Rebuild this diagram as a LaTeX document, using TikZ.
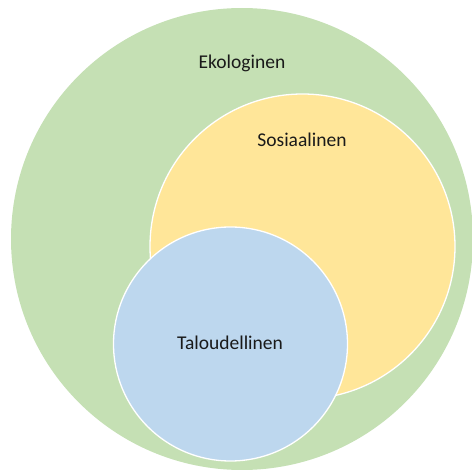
\documentclass[tikz,border=0pt]{standalone}
\usepackage{fontspec}
\setmainfont{Carlito}
\definecolor{ecogreen}{HTML}{C5E0B4}
\definecolor{socyellow}{HTML}{FFE699}
\definecolor{ecoblue}{HTML}{BDD7EE}
\definecolor{txt}{HTML}{1A1A1A}
\begin{document}
\begin{tikzpicture}[x=1pt,y=1pt,
  lbl/.style={font=\fontsize{19.5}{22}\selectfont, text=txt, inner sep=0pt},
  ring/.style={circle, draw=white, line width=1.3pt, inner sep=0pt}]
\useasboundingbox (0,0) rectangle (472,472);
\begin{scope}
\clip (0,0) rectangle (472,472);
\node[circle, fill=ecogreen, minimum size=462pt, inner sep=0pt] (eko) at (242,233) {};
\end{scope}
\node[ring, fill=socyellow, minimum size=305pt] (sos) at (302.5,225.5) {};
\node[ring, fill=ecoblue, minimum size=234pt] (tal) at (230.5,128) {};
\node[lbl] (ekot) at (242,409) {Ekologinen};
\node[lbl] (sost) at (302,332) {Sosiaalinen};
\node[lbl] (talt) at (230,129) {Taloudellinen};
\end{tikzpicture}
\end{document}
